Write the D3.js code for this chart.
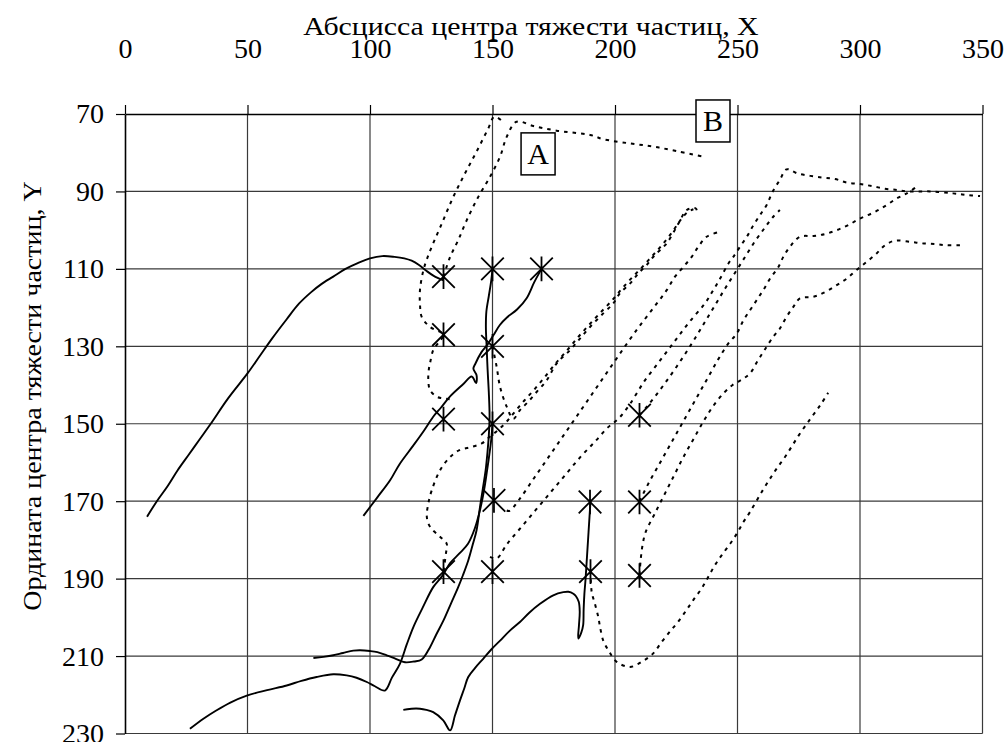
<!DOCTYPE html>
<html>
<head>
<meta charset="utf-8">
<script src="https://cdn.jsdelivr.net/npm/d3@7"></script>
<style>
  body { margin: 0; background: #fff; }
  svg { display: block; }
  text { font-family: "Liberation Serif", "Times New Roman", serif; fill: #000; }
</style>
</head>
<body>
<svg id="chart" width="1008" height="742"></svg>
<script>
// Axis ticks
const xTicks = [0, 50, 100, 150, 200, 250, 300, 350];
const yTicks = [70, 90, 110, 130, 150, 170, 190, 210, 230];

// Starting positions of particles (asterisks)
const startPoints = [
  [130, 112], [150, 110], [170, 110],
  [130, 127], [150, 130],
  [130, 148.8], [150, 150], [210, 147.8],
  [150.6, 169.8], [189.8, 170.2], [210, 170.2],
  [130, 188.2], [150, 188.2], [190, 188.2], [210, 189.2]
];

// Trajectories drawn with solid lines
const solidArc = [[9,174],[13,170],[17.5,166],[21.5,162],[26,158],[30.5,154],[35,150],[42,143.5],[50,137],[55,132.5],[60,128],[66,123],[71,119],[76,116],[80,114],[85,112],[90,110],[95,108.5],[100,107.3],[105,106.7],[110,106.9],[114,107.3],[117,107.9],[120,109],[123,110.5],[126,111.8],[130,113]];
const solidHook = [[170,110],[167,113.5],[164,117.5],[160,120.5],[156,122.5],[153,124.5],[150.5,127],[148,129.5],[145.5,131.5],[143,134.5],[142.2,135.8],[143.5,137.5],[143.3,139.5],[141.5,137.8],[138,139.8],[132.6,143],[129,145.8],[125.8,148.2],[122,151.8],[117.7,155.6],[112,160.5],[108.2,164.6],[103,169],[97.3,173.8]];
const solidOuter = [[150,110],[149.5,113],[148.5,117],[147.5,121],[147.3,125],[147.6,130],[148,136],[148.5,142],[148.8,148],[148.5,153],[148,157],[147.2,162],[146,167],[145,171],[143.5,177.5],[141.8,181.5],[140.1,185.3],[138,189],[136,192.2],[133,196.5],[130,200.8],[127,204.5],[124.5,207.7],[121.1,210.9],[118,211.4],[114.3,211.6],[110.5,210.7],[106.8,209.8],[103,209],[100,208.7],[96,208.5],[93.2,208.6],[89,209.2],[85,209.8],[81,210.2],[76.9,210.5]];
const solidInner = [[150,150],[149.5,154],[148.7,158],[147.8,162],[146.6,167],[145,172],[142.8,177],[140,181],[136.5,183.5],[132.7,186],[129.5,189.3],[125.8,192.2],[121.5,197.5],[117.7,202.5],[115,207],[112.2,212],[109,215.5],[106.1,218.9],[102,217.8],[98.7,216.7],[94.5,215.6],[90.5,215],[85,214.7],[78.2,215.4],[72,216.4],[66,217.6],[58,218.8],[49.7,220.2],[43,222],[37.4,224],[32,226.2],[26.5,228.8]];
const solidHump = [[190,170],[189.6,174],[189.2,178],[188.8,182],[188.4,186],[188,190],[187.5,194],[187.2,198],[187,202],[186.2,204],[185,205.5],[185.3,202],[185.6,198.5],[185.2,196],[184,194.5],[183,193.9],[181,193.4],[178.9,193.5],[174.8,194.3],[169.4,196.5],[165,198.8],[161.2,201.2],[157,203.5],[153.1,206],[149.5,208.3],[146.2,210.7],[143,213],[140.1,215.4],[138.5,218.3],[136.7,221.5],[134.7,225.3],[132.7,229.2],[129.9,226.6],[125.8,224.5],[123,223.9],[120.4,223.6],[117,223.6],[113.6,223.9]];

// Trajectories drawn with dotted lines
const dotLoopLeft = [[132.5,143.7],[129.5,143.4],[127.2,143],[124.5,141.3],[123.8,138.8],[124,136],[124.5,134.4],[125.8,131],[128,129],[130,127],[124.5,125],[121.1,122.4],[120.4,119],[120.4,115.5],[121.8,110.3],[123.5,107],[125.2,104.3],[129.3,98.3],[134,91.4],[138.8,85.3],[143.5,79.7],[148.3,73.7],[150.8,70.7],[155,72.4]];
const dotTopA = [[130,112],[132.7,106.9],[136,102.6],[139.5,97.4],[144.2,91.4],[149,86.2],[153.1,81],[155.8,75.9],[159.8,72],[166.7,73.1],[176.2,74.3],[189.8,75.4],[195.2,76.5],[206.1,77.6],[215.6,78.4],[225.2,79.6],[236,81]];
const dotLoopLow = [[130,188],[131,183.5],[131.3,181],[128.6,179.2],[124.5,176.6],[123.2,174.1],[123.8,170.6],[125.2,167.2],[128.6,162],[132.7,158.6],[136.5,156.8],[140.8,156.1],[145.6,155.1],[149,153.3],[152.5,151.5],[156,149.3],[159.5,146.6],[163,144],[167,141.2],[171,138.2],[175.5,134.6],[180.5,131],[185,127.6],[189.5,124.4],[194.5,121],[199,118],[203,115],[207,112.2],[211,109.6],[215,106.8],[219,104],[223,100.8],[226.5,97.6],[229.5,95.4],[232,94.6]];
const dotV = [[150,130],[151.7,135.3],[153.1,140.5],[155.8,145.6],[158.5,148.7],[161.2,146.5],[164.6,144.3],[168,141.8],[172.1,138.8],[176.2,134.4],[181.6,131],[185.7,128],[189.8,125],[195.2,121.5],[199.3,118.9],[202,116.3],[206.1,113.8],[209.5,111.2],[212.9,109],[216.3,106.4],[221.1,103.4],[225.9,98.3],[229.3,94.8],[233,94.4],[233.5,95.5]];
const dotJ = [[155.8,172.4],[157,172.5],[161,169.5],[167,164],[173,158.5],[179,153],[185,147.5],[191,142],[197,136.5],[203,131],[208.8,125.8],[212.9,122.4],[217,119],[221.1,115.5],[224.5,112],[227.9,109.5],[231.3,106.9],[234,104.3],[237.4,101.7],[243,100.4]];
const dotB = [[149,184.4],[151.7,184.8],[156,181],[162,176.5],[168,172],[174,167.5],[180,163],[186,158.5],[192,154.5],[197,151],[201.4,148.7],[206,145],[212,139],[218,134],[224,129],[230,124],[236.7,118.9],[240.1,115.5],[242.9,112.5],[246.3,108.6],[248.3,106.9],[251,104.3],[253.8,101.7],[256.5,98.7],[259.2,96.1],[261.9,93.5],[264.4,90],[267.3,87],[270,84.3],[274.8,85.4],[284.4,86.4],[289.8,86.8],[294.6,87.7],[300,88.1],[304.8,88.6],[310.2,89.3],[315,89.6],[319.1,90],[328.6,90],[338,90.5],[343.5,90.9],[349,91.2]];
const dotG = [[210,147.8],[213,145.6],[217,142.4],[221,139],[225,135.4],[229,131.6],[233,127.6],[237,123.4],[241,119.2],[245,115],[249,111],[253,107],[257,103],[261,99.5],[264.5,96.6],[267.3,94.8]];
const dotH = [[210,170],[214,165],[218,160.5],[222,156],[226,151.5],[230,147],[234,142.5],[238,138],[242,133.5],[246,129.5],[249.7,126.7],[252.4,123.3],[255.1,120.7],[257.8,118.1],[260.5,115.5],[263.3,112.5],[266.7,109.5],[268.7,106.9],[271.4,104.3],[275.5,101.7],[281,101.5],[285.7,101],[290.5,100],[295.2,98.7],[300,97],[305.4,95.5],[310.2,93.8],[315,91.8],[319.1,90.5],[323.1,88.8]];
const dotI = [[210,189],[210.5,185],[211.2,181.5],[212.5,178],[216,173.5],[220,168.5],[224,163.5],[228,158.5],[232,154],[236,149.5],[240,145.5],[244.5,142],[248,140],[252,138.5],[255.1,137],[258,134],[261,131],[264.6,127.5],[267.3,125.4],[270,122.4],[272.8,119.8],[275.5,117.6],[281,117.2],[285.7,116],[290.5,114.2],[294.6,112.5],[298.6,110.3],[302.7,108.2],[306.8,106],[310.2,103.9],[314.3,102.7],[320.4,103],[325.2,103.4],[330.6,103.6],[335.4,103.9],[340.8,103.9]];
const dotU = [[190,188],[190.5,193.5],[191.8,196.5],[193.2,200],[193.9,202.5],[195.2,206],[197.3,208.5],[200.7,211.5],[206.1,212.8],[210.9,211.5],[215.6,209.3],[219.1,206.3],[222.4,203.7],[225.8,201.1],[229.3,198],[232,195.5],[235.4,192.5],[238.1,189.5],[240.8,186.5],[243.5,184],[247,181],[249.7,178.4],[252.4,175.4],[255.1,172.8],[260,167.5],[265,162.5],[270,158],[275,153],[280,148.5],[284,145],[287,142]];

// Boxed letters placed at data coordinates
const boxLabels = ["A", "B"];
const boxX = [168.6, 240];
const boxY = [80.3, 71.8];

const solidLines = [solidArc, solidHook, solidOuter, solidInner, solidHump];
const dottedLines = [dotLoopLeft, dotTopA, dotLoopLow, dotV, dotJ, dotB, dotG, dotH, dotI, dotU];

const svg = d3.select("#chart");
const x = d3.scaleLinear().domain([0, 350]).range([125, 982.5]);
const y = d3.scaleLinear().domain([70, 230]).range([114, 733.5]);

// Grid
const grid = svg.append("g").attr("stroke", "#3a3a3a").attr("stroke-width", 1.2);
grid.selectAll("line.v").data(xTicks.slice(1)).join("line")
  .attr("x1", d => x(d)).attr("x2", d => x(d))
  .attr("y1", y(70)).attr("y2", y(230));
grid.selectAll("line.h").data(yTicks.slice(1)).join("line")
  .attr("x1", x(0)).attr("x2", x(350))
  .attr("y1", d => y(d)).attr("y2", d => y(d));

// Axes
const xAxis = svg.append("g").attr("transform", `translate(0,${y(70)})`)
  .call(d3.axisTop(x).tickValues(xTicks).tickSize(9).tickPadding(47).tickSizeOuter(0));
const yAxis = svg.append("g").attr("transform", `translate(${x(0)},0)`)
  .call(d3.axisLeft(y).tickValues(yTicks).tickSize(9).tickPadding(12).tickSizeOuter(0));
[xAxis, yAxis].forEach(a => {
  a.attr("font-family", null).attr("font-size", null);
  a.selectAll("path.domain").attr("stroke", "#000").attr("stroke-width", 1.6);
  a.selectAll(".tick line").attr("stroke", "#000").attr("stroke-width", 1.2);
  a.selectAll(".tick text").style("font-size", "28px");
});

// Axis titles (set in a slightly widened face)
svg.append("text").attr("transform", "translate(531,35) scale(1.17,1)").attr("text-anchor", "middle")
  .style("font-size", "25.5px").text("Абсцисса центра тяжести частиц, X");
svg.append("text").attr("transform", "translate(41,396) rotate(-90) scale(1.1,1)").attr("text-anchor", "middle")
  .style("font-size", "25.5px").text("Ордината центра тяжести частиц, Y");

const line = d3.line().x(d => x(d[0])).y(d => y(d[1])).curve(d3.curveCatmullRom.alpha(0.5));

// Dotted trajectories
svg.append("g").selectAll("path").data(dottedLines).join("path")
  .attr("d", line).attr("fill", "none").attr("stroke", "#000")
  .attr("stroke-width", 2).attr("stroke-dasharray", "3.5,5");

// Solid trajectories
svg.append("g").selectAll("path").data(solidLines).join("path")
  .attr("d", line).attr("fill", "none").attr("stroke", "#000")
  .attr("stroke-width", 1.9).attr("stroke-linejoin", "round");

// Asterisk markers
const r = 11.3;
svg.append("g").selectAll("path").data(startPoints).join("path")
  .attr("transform", d => `translate(${x(d[0])},${y(d[1])})`)
  .attr("d", `M${-r},${-r}L${r},${r}M${-r},${r}L${r},${-r}M0,${-r - 1}L0,${r + 1}`)
  .attr("stroke", "#000").attr("stroke-width", 1.8).attr("fill", "none");

// Boxed letters
const boxes = svg.append("g").selectAll("g").data(boxLabels).join("g")
  .attr("transform", (d, i) => `translate(${x(boxX[i])},${y(boxY[i])})`);
boxes.append("rect").attr("x", -17).attr("y", -21).attr("width", 34).attr("height", 42)
  .attr("fill", "#fff").attr("stroke", "#000").attr("stroke-width", 1.5);
boxes.append("text").attr("text-anchor", "middle").attr("dy", "0.35em")
  .style("font-size", "30px").text(d => d);
</script>
</body>
</html>
